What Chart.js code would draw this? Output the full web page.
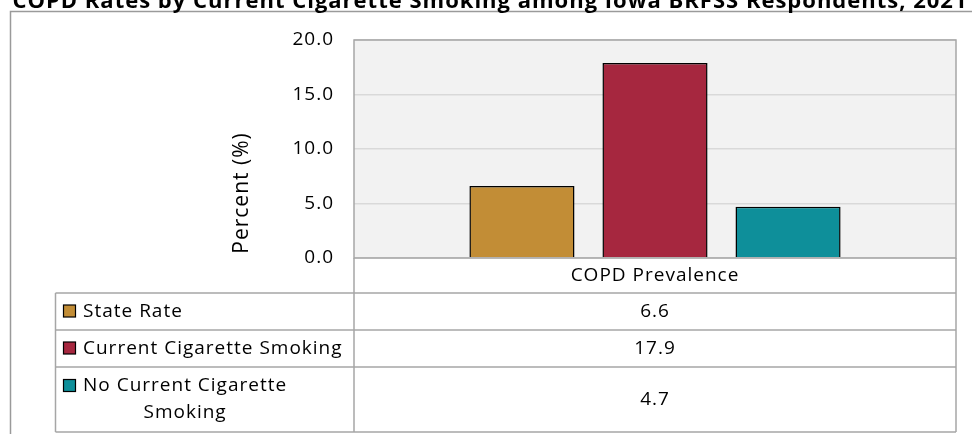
<!DOCTYPE html>
<html>
<head>
<meta charset="utf-8">
<script src="https://cdn.jsdelivr.net/npm/chart.js@4"></script>
<style>
    html, body { margin: 0; padding: 0; background: #fff; }
    canvas { display: block; }
</style>
</head>
<body>
<canvas id="copdChart" width="972" height="434"></canvas>
<script>
const chartTitle = 'COPD Rates by Current Cigarette Smoking among Iowa BRFSS Respondents, 2021';
const categories = ['COPD Prevalence'];
const seriesNames = ['State Rate', 'Current Cigarette Smoking', 'No Current Cigarette Smoking'];
const stateRate = [6.6];
const currentSmoking = [17.9];
const noCurrentSmoking = [4.7];
const yTickValues = [0, 5, 10, 15, 20];
const yAxisTitle = 'Percent (%)';

const seriesColors = ['#c28d36', '#a6273f', '#0e8f9a'];
const FONT = '"Open Sans", "Noto Sans", sans-serif';
const GRAY = '#a6a6a6';
// Open Sans is a bit narrower than the original Gill Sans, widen it slightly
const SPACING = '1px';

// row heights of the data table below the plot (header row first)
const tableRows = [35, 37, 37, 65];

function wrapText(ctx, text, maxWidth) {
    const words = text.split(' ');
    const lines = [];
    let line = '';
    words.forEach(w => {
        const test = line ? line + ' ' + w : w;
        if (ctx.measureText(test).width > maxWidth && line) {
            lines.push(line);
            line = w;
        } else {
            line = test;
        }
    });
    if (line) lines.push(line);
    return lines;
}

const frame = {
    id: 'frame',
    beforeDraw(chart) {
        const { ctx, chartArea: a } = chart;
        ctx.letterSpacing = SPACING;
        ctx.save();
        ctx.fillStyle = '#f2f2f2';
        ctx.fillRect(a.left, a.top, a.right - a.left, a.bottom - a.top);
        ctx.restore();
    },
    afterDatasetsDraw(chart) {
        const { ctx, chartArea: a } = chart;
        ctx.save();
        ctx.strokeStyle = GRAY;
        ctx.lineWidth = 1.5;
        ctx.strokeRect(a.left, a.top, a.right - a.left, a.bottom - a.top);
        ctx.restore();
    },
    afterDraw(chart) {
        const { ctx, chartArea: a } = chart;
        const datasets = chart.data.datasets;
        ctx.save();
        ctx.letterSpacing = SPACING;

        // outer chart border (top + left)
        ctx.strokeStyle = '#9a9a9a';
        ctx.lineWidth = 1.5;
        ctx.beginPath();
        ctx.moveTo(10.5, 434);
        ctx.lineTo(10.5, 11.5);
        ctx.lineTo(972, 11.5);
        ctx.stroke();

        // title (clipped at the top like the original)
        ctx.fillStyle = '#000';
        ctx.font = 'bold 22px ' + FONT;
        ctx.textAlign = 'center';
        ctx.textBaseline = 'alphabetic';
        ctx.fillText(chartTitle, 490, 8);

        // y axis title
        ctx.font = '21px ' + FONT;
        ctx.translate(242, 193);
        ctx.rotate(-Math.PI / 2);
        ctx.textBaseline = 'middle';
        ctx.fillText(yAxisTitle, 0, 0);
        ctx.setTransform(1, 0, 0, 1, 0, 0);

        // data table
        const tableLeft = 55.5;
        const ys = [a.bottom];
        tableRows.forEach(h => ys.push(ys[ys.length - 1] + h));
        ctx.strokeStyle = GRAY;
        ctx.lineWidth = 1.5;
        ctx.beginPath();
        ctx.moveTo(a.left, a.bottom);
        ctx.lineTo(a.left, ys[ys.length - 1]);
        ctx.moveTo(a.right, a.bottom);
        ctx.lineTo(a.right, ys[ys.length - 1]);
        ctx.moveTo(tableLeft, ys[1]);
        ctx.lineTo(tableLeft, ys[ys.length - 1]);
        for (let i = 1; i < ys.length; i++) {
            ctx.moveTo(tableLeft, ys[i]);
            ctx.lineTo(a.right, ys[i]);
        }
        ctx.stroke();

        ctx.font = '19px ' + FONT;
        ctx.fillStyle = '#000';
        ctx.textBaseline = 'middle';
        ctx.textAlign = 'center';
        const xScale = chart.scales.x;
        categories.forEach((c, ci) => {
            const cx = xScale.getPixelForValue(ci);
            ctx.fillText(c, cx, (ys[0] + ys[1]) / 2);
            datasets.forEach((ds, di) => {
                ctx.fillText(ds.data[ci].toFixed(1), cx, (ys[di + 1] + ys[di + 2]) / 2);
            });
        });

        // legend keys + series labels
        const textLeft = 83;
        const lineH = 27;
        datasets.forEach((ds, di) => {
            const lines = wrapText(ctx, ds.label, a.left - textLeft - 6);
            const rowMid = (ys[di + 1] + ys[di + 2]) / 2;
            const firstY = rowMid - (lines.length - 1) * lineH / 2;
            const widest = Math.max(...lines.map(l => ctx.measureText(l).width));
            ctx.textAlign = 'center';
            ctx.fillStyle = '#000';
            lines.forEach((l, li) => ctx.fillText(l, textLeft + widest / 2, firstY + li * lineH));
            ctx.fillStyle = ds.backgroundColor;
            ctx.fillRect(63.5, firstY - 6.5, 12, 12);
            ctx.strokeStyle = '#000';
            ctx.lineWidth = 1.2;
            ctx.strokeRect(63.5, firstY - 6.5, 12, 12);
        });
        ctx.restore();
    }
};

const seriesData = [stateRate, currentSmoking, noCurrentSmoking];

new Chart(document.getElementById('copdChart'), {
    type: 'bar',
    data: {
        labels: categories,
        datasets: seriesNames.map((name, i) => ({
            label: name,
            data: seriesData[i],
            backgroundColor: seriesColors[i],
            borderColor: '#000',
            borderWidth: 1.5,
            categoryPercentage: 0.663,
            barPercentage: 0.79
        }))
    },
    options: {
        responsive: false,
        animation: false,
        devicePixelRatio: 1,
        layout: { padding: { left: 0, top: 40, right: 16, bottom: 176 } },
        plugins: {
            legend: { display: false },
            title: { display: false },
            tooltip: { enabled: false }
        },
        scales: {
            x: { display: false },
            y: {
                min: 0,
                max: 20,
                afterBuildTicks: scale => { scale.ticks = yTickValues.map(v => ({ value: v })); },
                afterFit: scale => { scale.width = 354; },
                ticks: {
                    padding: 20,
                    color: '#000',
                    font: { family: FONT, size: 19 },
                    callback: v => v.toFixed(1)
                },
                grid: { color: '#d9d9d9', lineWidth: 1.5, drawTicks: false },
                border: { display: false }
            }
        }
    },
    plugins: [frame]
});
</script>
</body>
</html>
